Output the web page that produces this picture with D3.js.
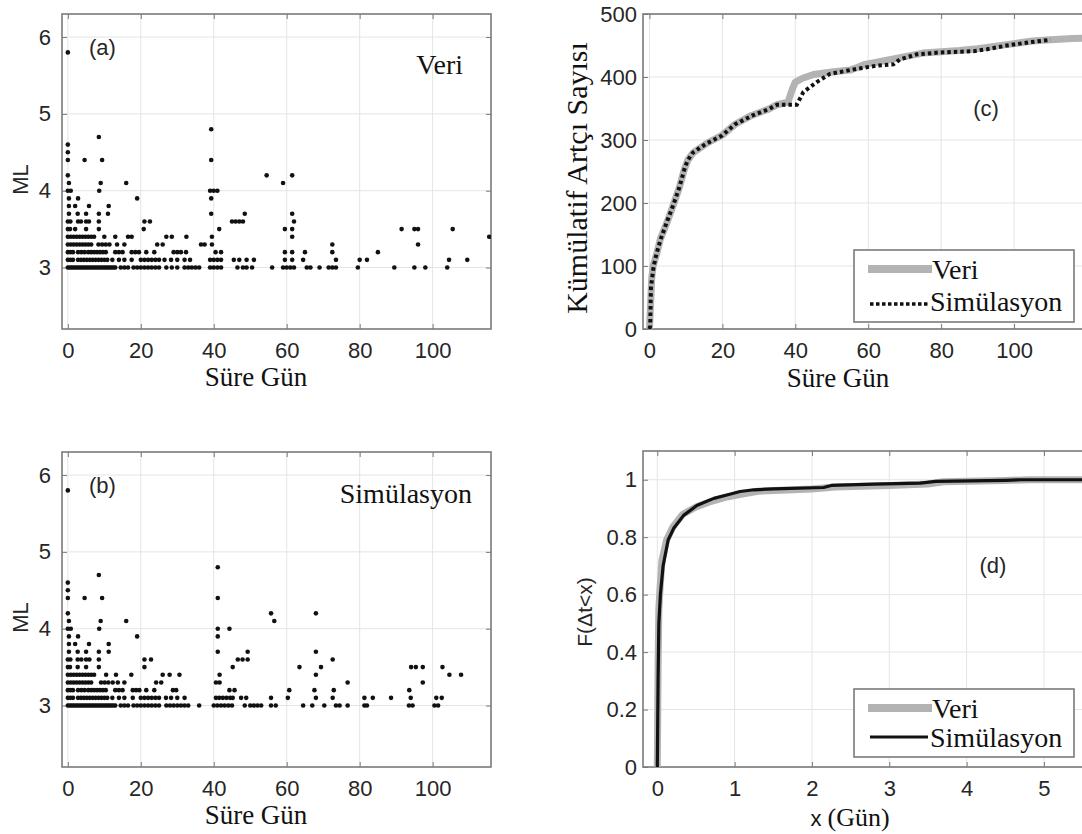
<!DOCTYPE html>
<html><head><meta charset="utf-8">
<script src="https://cdn.jsdelivr.net/npm/d3@7"></script>
<style>body{margin:0;background:#fff}svg{display:block}</style>
</head><body><svg id="chart" width="1082" height="834"></svg>
<script>
// ---------- DATA ----------
// (a) Veri: [ML, [days...]]
const veriRows = [
  [3.0, [0,0.5,1,1.5,2,2.5,3,3.5,4,4.5,5,5.5,6,6.5,7,7.5,8,8.5,9,9.5,10,10.5,11,11.5,12,12.5,13,14.5,15.5,16.5,18,19,20,21,22,23,24,25,27,28.5,30,32,33,34,35,36,39,40,41,42,46.5,48,49,50.5,56,59,60,61,62,65.5,66.5,69,71.5,72.5,73.5,79.5,89.5,95,98,104]],
  [3.1, [0,0.7,1.4,2.8,3.6,4.4,5.2,6,6.8,7.6,8.4,9.2,10,10.8,12.2,14,15.5,17.5,20,21,22,23,24,25,26.5,28.3,30,32,33.5,39,40,41,42,45.5,47,49,51,59.5,61.5,64.5,73.5,80,82,104.5,109.5]],
  [3.2, [0,0.7,1.4,2.8,3.7,4.6,5.6,6.4,7.2,8,8.8,9.6,10.4,13,14,15,17.5,18.5,19.5,21.5,23.7,29,30,31,32.4,40.5,42,59.5,61.5,65,72.5,85]],
  [3.3, [0,0.8,1.6,2.4,3.2,4,4.8,5.6,6.4,8.4,9.4,10.4,11.4,13.5,15.5,24.5,26,36.5,37.5,39.5,72.5,96]],
  [3.4, [0,0.8,1.6,2.4,3.2,4,4.8,5.6,6.4,7.2,10,13,16.5,17.5,27,28.5,32.5,39.5,61.5,115.5]],
  [3.5, [0,0.6,2,5,8.5,20.8,41.5,59.5,61.5,91.5,95,96,105.5]],
  [3.6, [0,0.7,2.8,3.6,5,5.8,8.5,21,22.5,45,46,47,48,62]],
  [3.7, [0.3,2.7,5,8.5,11,39.3,48.5,61.5]],
  [3.8, [0.3,2,5.8,11.2]],
  [3.9, [0.3,2.8,19,39.3]],
  [4.0, [0,0.8,8.6,39,40,41]],
  [4.1, [0.3,9,16,59]],
  [4.2, [0,54.5,61.5]],
  [4.4, [0,4.6,9.4,39.3]],
  [4.5, [0]],
  [4.6, [0]],
  [4.7, [8.5]],
  [4.8, [39.3]],
  [5.8, [0]]
];
// (b) Simülasyon: [ML, [days...]]
const simRows = [
  [3.0, [0,0.5,1,1.5,2,2.5,3,3.5,4,4.5,5,5.5,6,6.5,7,7.5,8,8.5,9,9.5,10,10.5,11,11.5,12,12.5,13,14.5,15.5,16.5,18,19,20,21,22,23,24,25,27,28,29,30,31,32,33,36,40,41,42,43,44,45,48.5,50,51,52,53,55.7,57,64.5,67,70.3,73.5,74.5,76.7,81.3,82,93.5,94.5,100.5,101.5]],
  [3.1, [0,0.7,1.4,2.8,3.6,4.4,5.2,6,6.8,7.6,8.4,9.2,10,10.8,12.2,14,15.5,17.8,20,21,22,23,24,25,26.9,28.3,30,32,40.6,41.5,42.5,43.5,44.5,45.2,47.5,48.9,55.7,60.3,68,72.6,81.3,83.6,88.6,94,101,102.5]],
  [3.2, [0,0.7,1.4,2.8,3.7,4.6,5.6,6.4,7.2,8,8.8,9.6,10.4,13,14,15,17.8,18.7,19.6,21.5,23.7,28.8,29.7,44.3,45.7,60.7,67.6,72.9,93.6]],
  [3.3, [0,0.8,1.6,2.4,3.2,4,4.8,5.6,6.4,9.1,10.1,11.1,12.3,13.7,15.5,24.2,25.6,40.6,41.6,76.7,97.3]],
  [3.4, [0,0.8,1.6,2.4,3.2,4,4.8,5.6,6.4,7.2,10.5,13.2,17.4,26,27.9,30.6,41.6,68,104.6,107.8]],
  [3.5, [0,0.6,2.7,5,8.5,21,45.2,63.5,69.4,94.1,95.4,97.3,102.7]],
  [3.6, [0,0.7,2.7,3.7,5,5.9,8.5,21,22.8,46.6,47.9,49.3,72.6]],
  [3.7, [0.3,2.7,5,8.5,11.2,41.1,49.3,68]],
  [3.8, [0.3,2,5.8,11.2]],
  [3.9, [0.3,2.8,19,41.1]],
  [4.0, [0,0.8,8.6,41.1,44.3]],
  [4.1, [0.3,9,16,56.6]],
  [4.2, [0,55.7,68]],
  [4.4, [0,4.6,9.4,41.1]],
  [4.5, [0]],
  [4.6, [0]],
  [4.7, [8.5]],
  [4.8, [41.1]],
  [5.8, [0]]
];
// (c) cumulative aftershock count: [day, count]
const cumVeri = [[0,0],[0.3,40],[0.6,80],[1,100],[2,120],[3,143],[5,172],[6.6,198],[8.2,225],[9.6,254],[10.5,268],[12,280],[15.5,294],[20,308],[23.5,325],[28,339],[32.7,349],[35,356],[38,360],[39,378],[40,392],[42,398],[45,404],[50,408],[55,411],[57,415],[59,420],[62,423],[68,430],[75,438],[85,442],[90,445],[95,449],[100,453],[105,457],[110,459],[116,461],[123,462]];
const cumSim = [[0,0],[0.2,5],[0.4,66],[1.1,98],[1.9,119],[3.1,143],[4.9,172],[6.6,198],[8.2,225],[9.6,254],[10.4,267],[11.9,280],[15.5,294],[19.9,307],[23.5,325],[28.3,339],[32.7,349],[35,356],[40.4,356],[42.2,376],[45.9,392],[49.5,405],[56.9,413],[62.3,418],[66.9,420],[68.7,428],[73.3,436],[79.7,439],[88.9,441],[92.6,444],[98,450],[104,455],[110,459]];
// (d) CDF of inter-event time: [x, F]
const cdfVeri = [[0,0],[0.01,0.35],[0.02,0.55],[0.035,0.62],[0.06,0.72],[0.12,0.79],[0.2,0.835],[0.33,0.88],[0.5,0.905],[0.7,0.925],[0.9,0.94],[1.1,0.95],[1.3,0.96],[2.0,0.968],[2.3,0.975],[3.0,0.98],[3.5,0.985],[3.7,0.993],[4.5,0.997],[4.8,1.0],[5.8,1.0]];
const cdfSim = [[0,0],[0.01,0.3],[0.02,0.5],[0.04,0.6],[0.075,0.7],[0.14,0.79],[0.21,0.83],[0.34,0.876],[0.51,0.91],[0.73,0.935],[0.9,0.947],[1.07,0.959],[1.25,0.965],[1.5,0.968],[2.15,0.973],[2.25,0.98],[2.8,0.985],[3.4,0.988],[3.6,0.994],[4.5,0.998],[4.7,1.0],[5.8,1.0]];
// tick values
const dayTicks = [0,20,40,60,80,100];
const mlTicks = [3,4,5,6];
const countTicks = [0,100,200,300,400,500];
const xTicksD = [0,1,2,3,4,5];
const fTicksD = [0,0.2,0.4,0.6,0.8,1];

// ---------- DRAW ----------
const svg = d3.select('#chart');
const SANS = '"Liberation Sans", Arial, sans-serif';
const SERIF = '"Liberation Serif", "Times New Roman", serif';
const TXT = '#262626';

let clipId = 0;
function frame(P) {
  const g = svg.append('g');
  const x = d3.scaleLinear().domain(P.xd).range([P.l, P.r]);
  const y = d3.scaleLinear().domain(P.yd).range([P.b, P.t]);
  g.append('g').selectAll('line').data(P.xt).join('line')
    .attr('x1', d => x(d)).attr('x2', d => x(d)).attr('y1', P.t).attr('y2', P.b)
    .attr('stroke', '#e4e4e4').attr('stroke-width', 1);
  g.append('g').selectAll('line').data(P.yt).join('line')
    .attr('y1', d => y(d)).attr('y2', d => y(d)).attr('x1', P.l).attr('x2', P.r)
    .attr('stroke', '#e4e4e4').attr('stroke-width', 1);
  const ax = (sel) => { sel.select('.domain').remove(); sel.selectAll('line').attr('stroke', '#7a7a7a'); sel.selectAll('text').attr('fill', TXT).style('font-family', SANS).style('font-size', '22px'); };
  g.append('g').attr('transform', `translate(0,${P.b})`)
    .call(d3.axisBottom(x).tickValues(P.xt).tickSize(-5).tickPadding(13).tickFormat(P.xf || d3.format('d'))).call(ax);
  g.append('g').attr('transform', `translate(0,${P.t})`)
    .call(d3.axisTop(x).tickValues(P.xt).tickSize(-5).tickFormat('')).call(ax);
  g.append('g').attr('transform', `translate(${P.l},0)`)
    .call(d3.axisLeft(y).tickValues(P.yt).tickSize(-5).tickPadding(P.yp).tickFormat(P.yf || d3.format('d'))).call(ax);
  g.append('g').attr('transform', `translate(${P.r},0)`)
    .call(d3.axisRight(y).tickValues(P.yt).tickSize(-5).tickFormat('')).call(ax);
  g.append('rect').attr('x', P.l).attr('y', P.t).attr('width', P.r - P.l).attr('height', P.b - P.t)
    .attr('fill', 'none').attr('stroke', '#7a7a7a').attr('stroke-width', 1.6);
  const id = 'clip' + (clipId++);
  svg.append('clipPath').attr('id', id).append('rect')
    .attr('x', P.l).attr('y', P.t).attr('width', P.r - P.l).attr('height', P.b - P.t);
  const plot = svg.append('g').attr('clip-path', `url(#${id})`);
  return {x, y, g, plot};
}

function scatter(P, rows, label, name, nameX, nameY) {
  const f = frame(P);
  const pts = rows.flatMap(([ml, days]) => days.map(d => [d, ml]));
  f.plot.selectAll('circle').data(pts).join('circle')
    .attr('cx', d => f.x(d[0])).attr('cy', d => f.y(d[1])).attr('r', 2.3).attr('fill', '#111');
  svg.append('text').attr('x', 89).attr('y', P.t + 41).text(label)
    .style('font-family', SANS).style('font-size', '22px').attr('fill', TXT);
  svg.append('text').attr('x', nameX).attr('y', nameY).attr('text-anchor', 'end').text(name)
    .style('font-family', SERIF).style('font-size', '28px').attr('fill', '#111');
  svg.append('text').attr('transform', `translate(28,${(P.t + P.b) / 2 + 8}) rotate(-90)`)
    .attr('text-anchor', 'middle').text('ML')
    .style('font-family', SANS).style('font-size', '22px').attr('fill', TXT);
  svg.append('text').attr('x', 256).attr('y', P.b + 57).attr('text-anchor', 'middle').text('Süre Gün')
    .style('font-family', SERIF).style('font-size', '27px').attr('fill', '#111');
}

scatter({l: 62, r: 491, t: 14, b: 329, xd: [-1.6, 116], yd: [2.2, 6.3], xt: dayTicks, yt: mlTicks, yp: 11}, veriRows, '(a)', 'Veri', 463, 74);
scatter({l: 62, r: 491, t: 452, b: 767, xd: [-1.6, 116], yd: [2.2, 6.3], xt: dayTicks, yt: mlTicks, yp: 11}, simRows, '(b)', 'Simülasyon', 472, 503);

function legend(t, b, rowsY, dotted) {
  svg.append('rect').attr('x', 854).attr('y', t).attr('width', 220).attr('height', b - t)
    .attr('fill', '#fff').attr('stroke', '#7a7a7a').attr('stroke-width', 1.6);
  svg.append('line').attr('x1', 868).attr('x2', 932).attr('y1', rowsY[0]).attr('y2', rowsY[0])
    .attr('stroke', '#b3b3b3').attr('stroke-width', 8);
  svg.append('text').attr('x', 932).attr('y', rowsY[1]).text('Veri')
    .style('font-family', SERIF).style('font-size', '28px').attr('fill', '#111');
  const sl = svg.append('line').attr('x1', 870).attr('x2', 928).attr('y1', rowsY[2]).attr('y2', rowsY[2])
    .attr('stroke', '#111').attr('stroke-width', dotted ? 3.5 : 2.8);
  if (dotted) sl.attr('stroke-dasharray', '3.5,2.5');
  svg.append('text').attr('x', 930).attr('y', rowsY[3]).text('Simülasyon')
    .style('font-family', SERIF).style('font-size', '28px').attr('fill', '#111');
}

// (c)
{
  const P = {l: 643, r: 1095, t: 14, b: 329, xd: [-1.78, 122.2], yd: [0, 500], xt: dayTicks, yt: countTicks, yp: 6};
  const f = frame(P);
  const line = d3.line().x(d => f.x(d[0])).y(d => f.y(d[1]));
  f.plot.append('path').datum(cumVeri).attr('d', line).attr('fill', 'none')
    .attr('stroke', '#b3b3b3').attr('stroke-width', 7).attr('stroke-linejoin', 'round');
  f.plot.append('path').datum(cumSim).attr('d', line).attr('fill', 'none')
    .attr('stroke', '#111').attr('stroke-width', 4).attr('stroke-dasharray', '3.5,3');
  svg.append('text').attr('x', 986).attr('y', 116).attr('text-anchor', 'middle').text('(c)')
    .style('font-family', SANS).style('font-size', '22px').attr('fill', TXT);
  svg.append('text').attr('transform', `translate(587,178) rotate(-90)`).attr('text-anchor', 'middle')
    .text('Kümülatif Artçı Sayısı').style('font-family', SERIF).style('font-size', '30px').attr('fill', '#111');
  svg.append('text').attr('x', 838).attr('y', 387).attr('text-anchor', 'middle').text('Süre Gün')
    .style('font-family', SERIF).style('font-size', '27px').attr('fill', '#111');
  legend(250, 322, [269, 279, 304, 311], true);
}

// (d)
{
  const P = {l: 643, r: 1095, t: 451, b: 767, xd: [-0.185, 5.66], yd: [0, 1.1], xt: xTicksD, yt: fTicksD, yp: 6, yf: d => (d === 0 || d === 1) ? String(d) : d3.format('.1f')(d)};
  const f = frame(P);
  const line = d3.line().x(d => f.x(d[0])).y(d => f.y(d[1]));
  f.plot.append('path').datum(cdfVeri).attr('d', line).attr('fill', 'none')
    .attr('stroke', '#b3b3b3').attr('stroke-width', 7).attr('stroke-linejoin', 'round');
  f.plot.append('path').datum(cdfSim).attr('d', line).attr('fill', 'none')
    .attr('stroke', '#111').attr('stroke-width', 3.2).attr('stroke-linejoin', 'round');
  svg.append('text').attr('x', 993).attr('y', 573).attr('text-anchor', 'middle').text('(d)')
    .style('font-family', SANS).style('font-size', '22px').attr('fill', TXT);
  svg.append('text').attr('transform', `translate(592,612) rotate(-90)`).attr('text-anchor', 'middle')
    .text('F(Δt<x)').style('font-family', SANS).style('font-size', '21px').attr('fill', TXT);
  const xl = svg.append('text').attr('x', 850).attr('y', 826).attr('text-anchor', 'middle').attr('fill', '#111');
  xl.append('tspan').text('x ').style('font-family', SANS).style('font-size', '22px');
  xl.append('tspan').text('(Gün)').style('font-family', SERIF).style('font-size', '26px');
  legend(689, 757, [708, 718, 737, 747], false);
}
</script></body></html>
